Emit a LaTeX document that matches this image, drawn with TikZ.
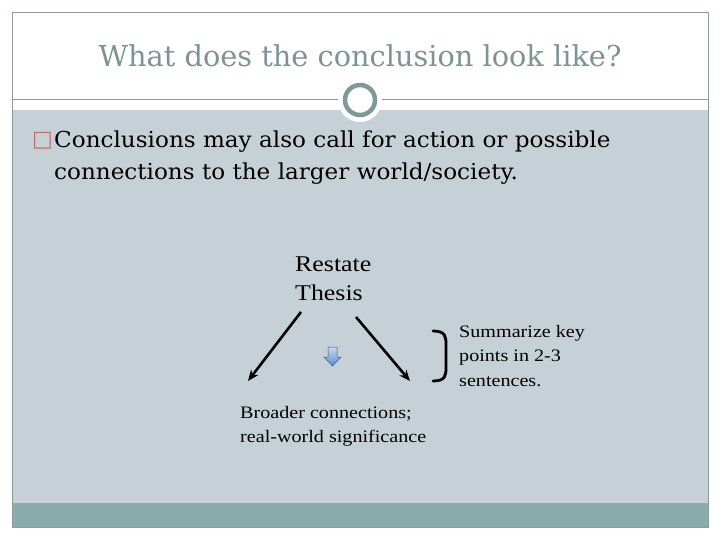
\documentclass[tikz,border=0pt]{standalone}
\usepackage{fontspec}
\setmainfont{Liberation Serif}
\newfontfamily\symfont{DejaVu Sans}
\newfontfamily\bodyfont[FakeStretch=1.05]{DejaVu Serif}
\newfontfamily\titlefont{DejaVu Serif}
\newfontfamily\wideserif[FakeStretch=1.15]{Liberation Serif}
\usetikzlibrary{positioning, calc, arrows.meta}

\definecolor{bandgray}{HTML}{C5D1D7}
\definecolor{footteal}{HTML}{8AACAC}
\definecolor{titlegray}{HTML}{7C9494}
\definecolor{rulegray}{HTML}{8A9C9E}
\definecolor{ringgray}{HTML}{7F9898}
\definecolor{arrowblue}{HTML}{5C8FD6}
\definecolor{bulletred}{HTML}{C0706A}

\begin{document}
\begin{tikzpicture}[x=1pt, y=-1pt,
        % Define text styles
        body/.style={font=\bodyfont\fontsize{22}{31}\selectfont, anchor=west, inner sep=0pt},
        small/.style={font=\wideserif\fontsize{17.5}{24.5}\selectfont, anchor=north west, align=left, inner sep=0pt},
        link/.style={line width=2.6pt, -{Stealth[length=11pt, width=9pt]}}
    ]

    \useasboundingbox (0,0) rectangle (720,540);
    \fill[white] (0,0) rectangle (720,540);

    % ==========================================
    % SLIDE FRAME
    % ==========================================

    % Grey body band and footer bar
    \fill[bandgray] (12,110) rectangle (708,503);
    \fill[footteal] (12,503) rectangle (708,527);
    \draw[rulegray, line width=0.6pt] (12,12) rectangle (708,527);

    % Title rule with ring
    \draw[rulegray, line width=1pt] (12,100) -- (708,100);
    \fill[white] (360,100) circle (22);
    \draw[ringgray, line width=4.5pt] (360,100) circle (15);

    % Title
    \node[font=\titlefont\fontsize{28.8}{34}\selectfont, text=titlegray] (title) at (360,56) {What does the conclusion look like?};

    % ==========================================
    % BULLET TEXT
    % ==========================================
    \node[body, text=bulletred] (bullet) at (32,141) {\symfont\fontsize{22}{24}\selectfont □};
    \node[body] (line1) at (54,142) {Conclusions may also call for action or possible};
    \node[body] (line2) at (54,174) {connections to the larger world/society.};

    % ==========================================
    % DIAGRAM
    % ==========================================
    \node[font=\wideserif\fontsize{22.5}{29}\selectfont, anchor=north west, align=left, inner sep=0pt] (thesis) at (295,257) {Restate\\Thesis};

    % Arrow ends
    \coordinate (leftend) at (248,381);
    \coordinate (rightend) at (410,381);
    \coordinate (leftstart) at (301,312);
    \coordinate (rightstart) at (356,317);

    \draw[link] (leftstart) -- (leftend);
    \draw[link] (rightstart) -- (rightend);

    % Small blue down arrow
    \shade[top color=arrowblue!35, bottom color=arrowblue, draw=arrowblue!60!black, line width=0.5pt]
        (328,347) -- (337,347) -- (337,357) -- (341,357) -- (332.5,366) -- (324,357) -- (328,357) -- cycle;

    % Bracket
    \draw[line width=2.8pt, line cap=round] (433,331) .. controls (446,331) and (446,337) .. (446,345)
        -- (446,367) .. controls (446,375) and (446,381) .. (433,381);

    \node[small] (summary) at (459,325) {Summarize key\\points in 2-3\\sentences.};
    \node[small] (broader) at (240,406) {Broader connections;\\real-world significance};

\end{tikzpicture}
\end{document}
